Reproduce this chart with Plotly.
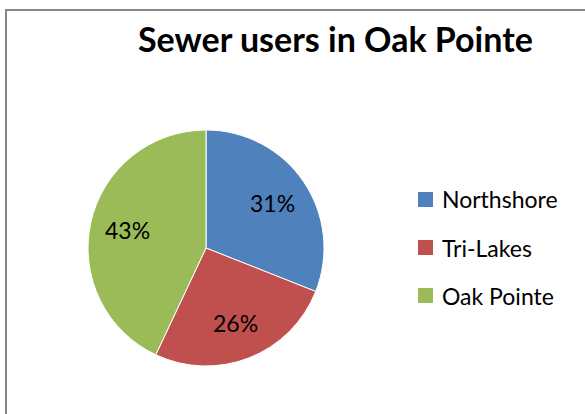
import math
import plotly.graph_objects as go

title = "Sewer users in Oak Pointe"
categories = ["Northshore", "Tri-Lakes", "Oak Pointe"]
values = [31, 26, 43]
colors = ["#4F81BD", "#C0504D", "#9BBB59"]

W, H = 585, 414
FONT = "Lato, Open Sans, sans-serif"

def px(x):
    return x / W

def py(y):
    return 1 - y / H

# pie geometry (pixels in the screenshot)
CX, CY, R = 206, 248, 118

fig = go.Figure()
fig.add_trace(go.Pie(
    labels=categories,
    values=values,
    sort=False,
    direction="clockwise",
    rotation=0,
    marker=dict(colors=colors, line=dict(color="white", width=1)),
    textinfo="none",
    domain=dict(x=[px(CX - R), px(CX + R)], y=[py(CY + R), py(CY - R)]),
    showlegend=False,
    hoverinfo="label+percent",
))

shapes = [
    dict(type="rect", xref="paper", yref="paper",
         x0=px(6), x1=px(W + 30), y0=py(H + 30), y1=py(10),
         line=dict(color="#868686", width=2), fillcolor="rgba(0,0,0,0)")
]
annotations = [
    dict(text="<b>" + title + "</b>", xref="paper", yref="paper",
         x=px(335), y=py(39), xanchor="center", yanchor="middle",
         showarrow=False, font=dict(family=FONT, size=34, color="black"))
]

# data labels (percent) placed along each slice's mid-angle
total = sum(values)
cum = 0
for v in values:
    mid = (cum + v / 2) / total * 2 * math.pi
    cum += v
    rr = 0.68 * R
    lx = CX + rr * math.sin(mid)
    ly = CY - rr * math.cos(mid)
    annotations.append(dict(text=f"{round(100 * v / total)}%", xref="paper", yref="paper",
                            x=px(lx), y=py(ly), xanchor="center", yanchor="middle",
                            showarrow=False, font=dict(family=FONT, size=23, color="black")))

legend_y0 = 199.5
legend_dy = 48
for i, (cat, col) in enumerate(zip(categories, colors)):
    yc = legend_y0 + i * legend_dy
    shapes.append(dict(type="rect", xref="paper", yref="paper",
                       x0=px(418), x1=px(433), y0=py(yc + 7.5), y1=py(yc - 7.5),
                       line=dict(width=0), fillcolor=col))
    annotations.append(dict(text=cat, xref="paper", yref="paper",
                            x=px(440), y=py(yc), xanchor="left", yanchor="middle",
                            showarrow=False,
                            font=dict(family=FONT, size=23, color="black")))

fig.update_layout(
    width=W, height=H,
    margin=dict(l=0, r=0, t=0, b=0),
    paper_bgcolor="white",
    plot_bgcolor="white",
    shapes=shapes,
    annotations=annotations,
    showlegend=False,
)

fig.write_html("out.html",
               config={"displayModeBar": False},
               post_script="document.body.style.margin='0';document.body.style.overflow='hidden';")
